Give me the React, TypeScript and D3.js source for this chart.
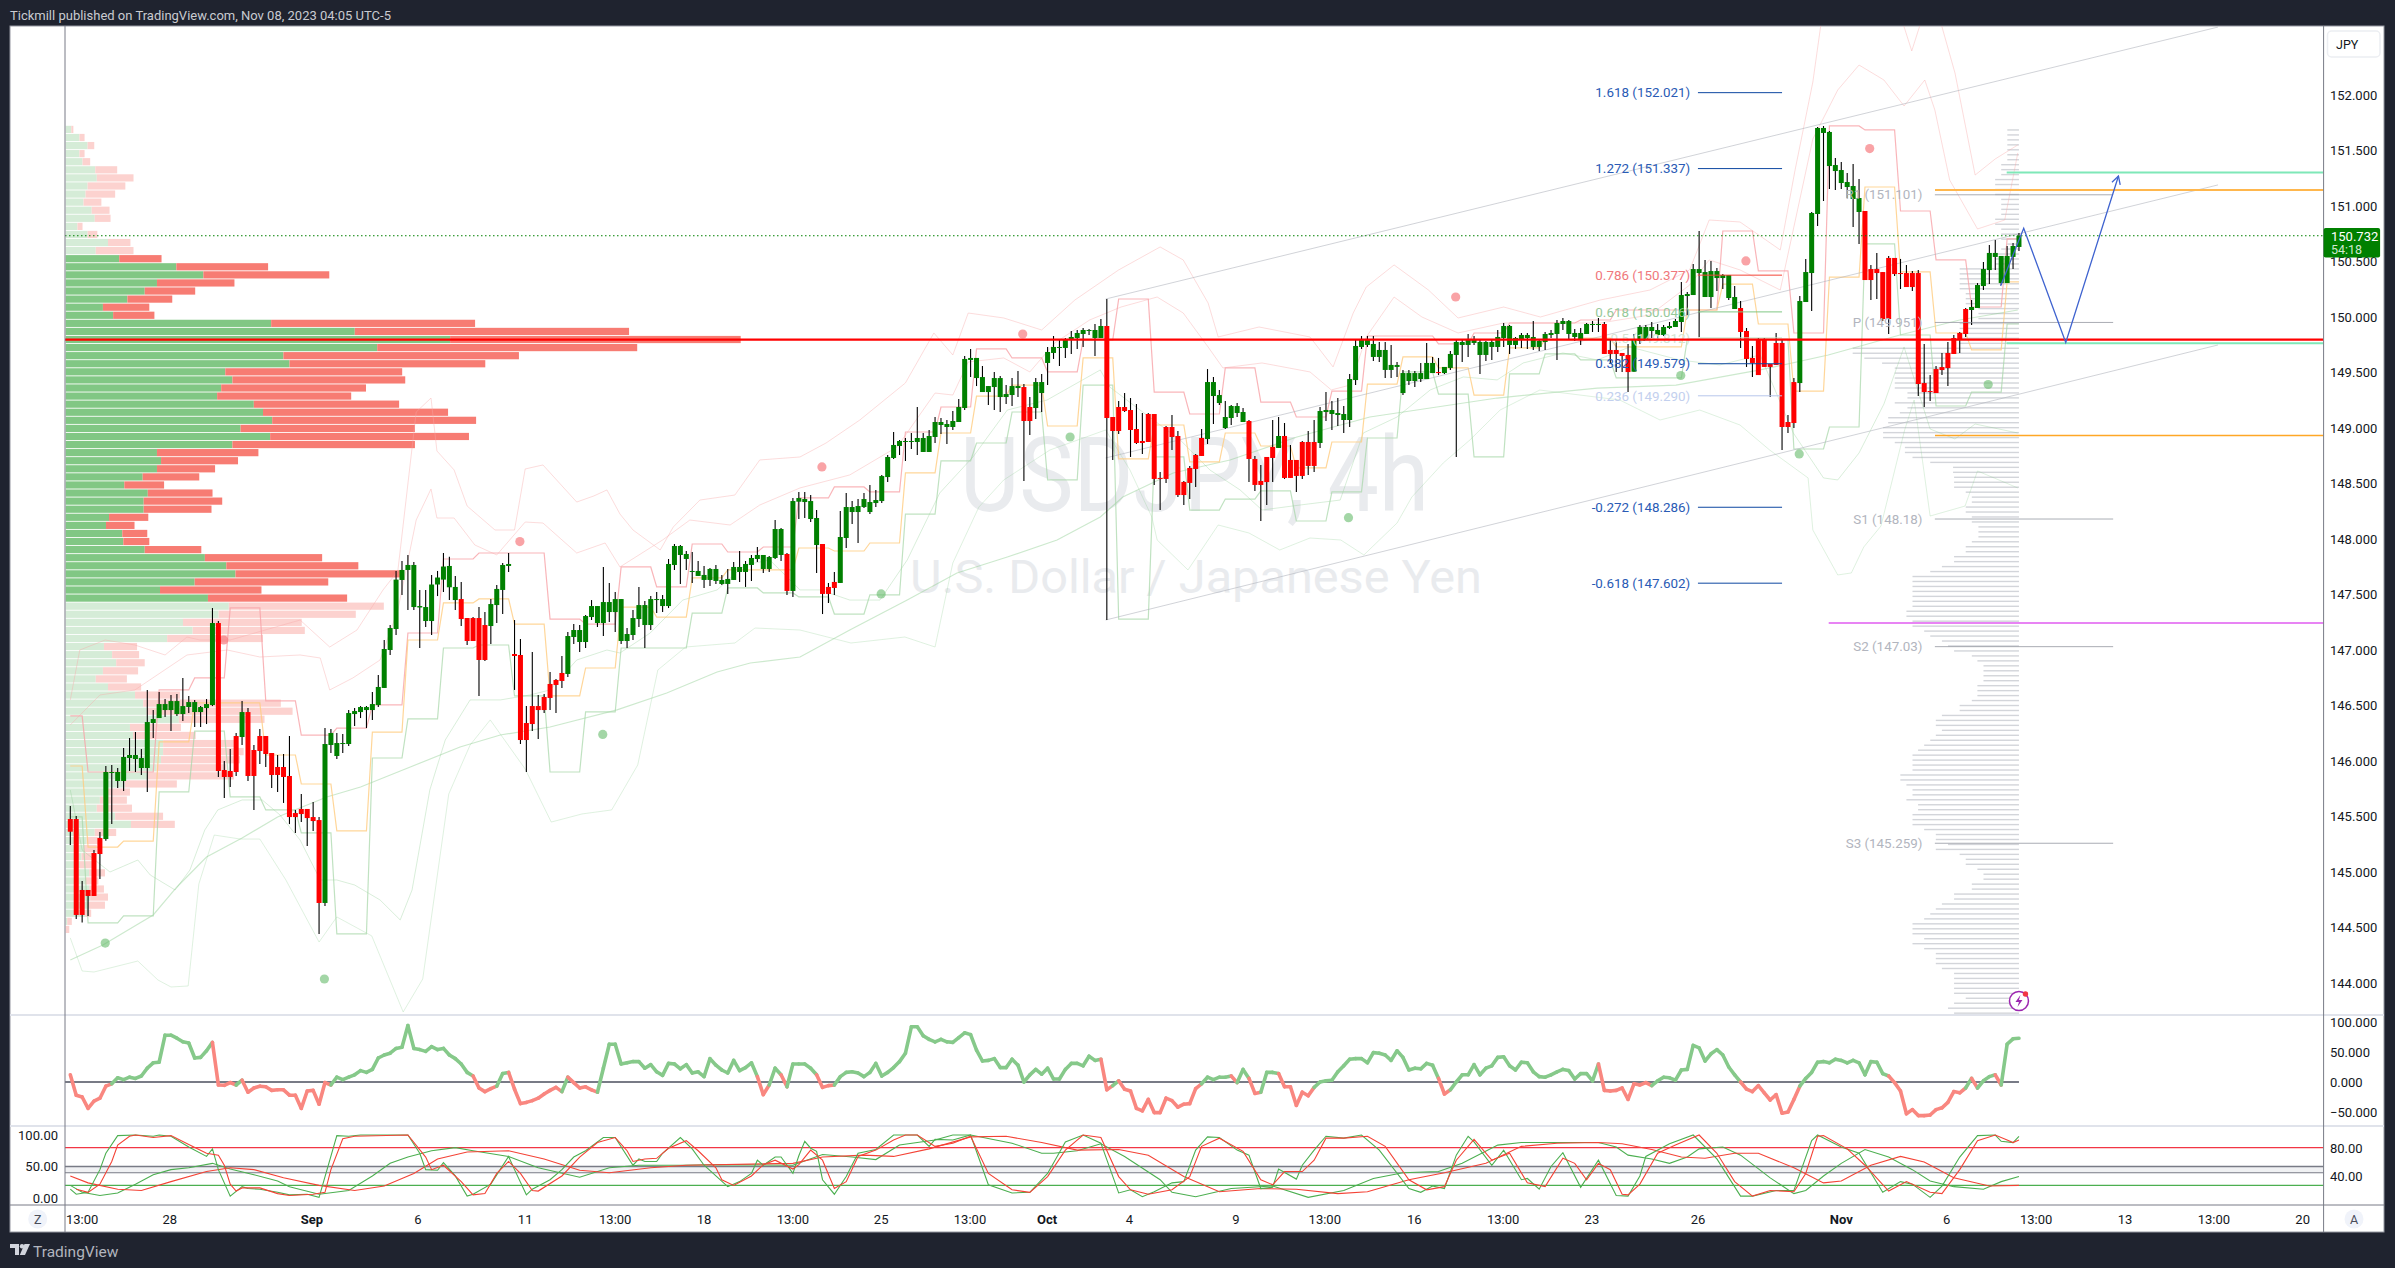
import React from "react";
import * as d3 from "d3";

type Pt = [number, number];

const ohlc: number[][] = [
[145.477,145.595,145.243,145.363],[145.477,145.504,144.577,144.613],[144.838,144.919,144.544,144.613],[144.838,144.838,144.604,144.784],[145.171,145.198,144.784,144.784],[145.306,145.360,144.937,145.162],[145.297,145.955,145.282,145.901],[145.892,145.964,145.432,145.901],[145.820,145.937,145.757,145.901],[145.820,146.117,145.730,146.036],
[146.027,146.207,145.910,146.054],[146.018,146.261,145.901,146.054],[145.937,146.108,145.874,146.027],[145.937,146.640,145.721,146.351],[146.342,146.459,146.207,146.378],[146.387,146.622,146.387,146.513],[146.459,146.558,146.396,146.513],[146.459,146.595,146.270,146.540],[146.423,146.604,146.405,146.540],[146.423,146.748,146.360,146.495],
[146.486,146.585,146.432,146.531],[146.441,146.549,146.306,146.531],[146.441,146.495,146.306,146.486],[146.477,146.558,146.333,146.513],[146.504,147.378,146.495,147.243],[147.243,147.261,145.856,145.910],[145.919,146.000,145.667,145.856],[145.910,146.108,145.766,145.856],[146.225,146.252,145.865,145.901],[146.216,146.540,146.144,146.441],
[146.441,146.477,145.820,145.865],[146.099,146.144,145.559,145.865],[146.225,146.288,145.973,146.090],[146.225,146.225,145.946,146.063],[146.072,146.072,145.757,145.874],[145.946,146.054,145.721,145.874],[145.946,146.063,145.622,145.856],[145.865,146.225,145.432,145.495],[145.531,145.559,145.351,145.495],[145.568,145.703,145.450,145.522],
[145.568,145.568,145.234,145.486],[145.495,145.631,145.369,145.459],[145.468,145.495,144.441,144.721],[144.721,146.297,144.694,146.153],[146.144,146.288,146.072,146.252],[146.045,146.252,146.018,146.162],[146.153,146.243,146.072,146.162],[146.153,146.459,146.135,146.432],[146.423,146.477,146.315,146.450],[146.441,146.495,146.387,146.486],
[146.459,146.495,146.297,146.486],[146.459,146.622,146.369,146.513],[146.504,146.775,146.486,146.667],[146.658,147.090,146.658,147.009],[147.000,147.225,146.955,147.198],[147.189,147.712,147.135,147.634],[147.631,147.802,147.496,147.721],[147.721,147.856,147.360,147.766],[147.387,147.793,147.360,147.766],[147.383,147.541,147.018,147.396],
[147.261,147.541,147.207,147.387],[147.261,147.676,147.135,147.590],[147.590,147.712,147.486,147.653],[147.634,147.874,147.523,147.752],[147.565,147.841,147.451,147.757],[147.450,147.667,147.360,147.568],[147.459,147.613,147.216,147.279],[147.288,147.288,147.045,147.081],[147.288,147.297,147.081,147.081],[147.288,147.387,146.586,146.910],
[147.225,147.342,146.901,146.910],[147.216,147.459,147.054,147.414],[147.405,147.586,147.243,147.550],[147.541,147.784,147.324,147.766],[147.757,147.874,147.703,147.775],[146.964,147.270,146.640,146.946],[146.955,147.099,146.153,146.189],[146.342,146.495,145.901,146.189],[146.495,146.982,146.270,146.333],[146.495,146.595,146.198,146.459],
[146.577,146.604,146.432,146.459],[146.694,146.802,146.459,146.568],[146.730,146.739,146.432,146.685],[146.793,146.946,146.658,146.721],[146.784,147.162,146.757,147.126],[147.117,147.234,147.054,147.180],[147.072,147.225,146.982,147.180],[147.072,147.315,147.018,147.306],[147.297,147.450,147.270,147.396],[147.243,147.396,147.207,147.396],
[147.243,147.748,147.126,147.432],[147.342,147.604,147.252,147.432],[147.342,147.522,147.162,147.459],[147.081,147.459,147.054,147.459],[147.081,147.198,147.018,147.144],[147.135,147.360,147.090,147.288],[147.279,147.568,147.207,147.405],[147.225,147.441,147.018,147.405],[147.225,147.486,147.180,147.459],[147.450,147.522,147.333,147.459],
[147.396,147.495,147.342,147.459],[147.396,147.820,147.378,147.775],[147.766,147.955,147.721,147.937],[147.856,147.946,147.595,147.937],[147.820,147.892,147.721,147.865],[147.703,147.883,147.604,147.712],[147.667,147.802,147.667,147.712],[147.631,147.757,147.559,147.676],[147.631,147.739,147.577,147.730],[147.622,147.766,147.595,147.730],
[147.595,147.676,147.586,147.631],[147.595,147.730,147.505,147.640],[147.631,147.793,147.631,147.748],[147.703,147.892,147.613,147.748],[147.703,147.802,147.568,147.775],[147.766,147.856,147.622,147.829],[147.820,147.928,147.793,147.856],[147.730,147.856,147.694,147.856],[147.730,147.847,147.703,147.838],[147.829,148.171,147.820,148.090],
[147.856,148.099,147.802,148.090],[147.865,147.874,147.495,147.532],[147.532,148.369,147.477,148.342],[148.336,148.423,148.180,148.369],[148.333,148.423,148.189,148.360],[148.180,148.396,148.153,148.342],[147.946,148.261,147.694,148.189],[147.955,147.955,147.324,147.505],[147.568,147.604,147.423,147.505],[147.613,147.703,147.495,147.559],
[147.604,148.252,147.604,148.018],[148.009,148.414,147.919,148.288],[148.243,148.342,148.135,148.288],[148.243,148.360,147.964,148.297],[148.288,148.414,148.279,148.360],[148.243,148.486,148.225,148.333],[148.324,148.441,148.288,148.351],[148.342,148.576,148.324,148.567],[148.558,148.757,148.513,148.739],[148.730,148.964,148.721,148.847],
[148.838,148.892,148.757,148.883],[148.874,148.910,148.703,148.883],[148.874,148.955,148.811,148.883],[148.874,149.189,148.757,148.910],[148.784,148.955,148.784,148.910],[148.784,148.982,148.784,148.928],[148.919,149.099,148.865,149.054],[149.027,149.090,148.946,149.054],[149.009,149.072,148.856,149.036],[149.009,149.153,148.982,149.063],
[149.054,149.261,149.054,149.189],[149.180,149.649,149.162,149.622],[149.613,149.712,149.459,149.631],[149.450,149.631,149.378,149.631],[149.324,149.559,149.324,149.459],[149.324,149.378,149.207,149.378],[149.369,149.504,149.162,149.450],[149.279,149.468,149.144,149.450],[149.279,149.387,149.216,149.306],[149.297,149.450,149.198,149.378],
[149.360,149.514,149.279,149.378],[149.369,149.396,148.522,149.063],[149.189,149.279,148.937,149.063],[149.180,149.450,149.081,149.414],[149.315,149.486,149.144,149.414],[149.586,149.730,149.387,149.685],[149.676,149.829,149.622,149.730],[149.721,149.793,149.559,149.730],[149.721,149.811,149.631,149.802],[149.793,149.874,149.667,149.820],
[149.811,149.883,149.712,149.856],[149.847,149.901,149.730,149.883],[149.874,149.892,149.838,149.883],[149.811,149.937,149.649,149.883],[149.811,149.982,149.811,149.919],[149.919,150.162,147.270,149.090],[149.099,149.099,148.712,148.973],[149.189,149.243,148.946,148.973],[149.189,149.315,149.144,149.153],[149.162,149.270,148.739,148.982],
[148.991,149.216,148.856,148.865],[148.883,149.135,148.766,148.865],[149.126,149.135,148.874,148.874],[149.126,149.126,148.486,148.541],[148.550,148.604,148.261,148.541],[149.009,149.018,148.504,148.541],[149.009,149.117,148.802,148.919],[148.928,148.973,148.378,148.396],[148.514,148.522,148.306,148.396],[148.640,148.658,148.360,148.505],
[148.757,148.766,148.469,148.631],[148.910,148.991,148.748,148.748],[148.901,149.531,148.856,149.414],[149.288,149.459,149.036,149.414],[149.225,149.342,149.207,149.297],[149.000,149.243,148.991,149.099],[149.090,149.207,149.027,149.198],[149.135,149.225,149.099,149.198],[149.054,149.180,149.054,149.144],[149.063,149.072,148.513,148.721],
[148.721,148.748,148.432,148.487],[148.523,148.667,148.162,148.487],[148.739,148.739,148.306,148.513],[148.829,149.072,148.513,148.730],[148.820,149.099,148.820,148.928],[148.928,149.045,148.541,148.550],[148.712,148.847,148.550,148.550],[148.712,148.712,148.423,148.568],[148.874,148.883,148.541,148.568],[148.874,148.973,148.577,148.658],
[148.874,149.072,148.604,148.658],[148.865,149.189,148.820,149.153],[149.144,149.324,149.063,149.162],[149.126,149.243,148.982,149.162],[149.117,149.270,149.018,149.135],[149.072,149.198,148.955,149.126],[149.072,149.486,149.009,149.441],[149.432,149.802,149.387,149.739],[149.730,149.829,149.712,149.802],[149.748,149.829,149.730,149.802],
[149.640,149.829,149.604,149.757],[149.640,149.775,149.595,149.703],[149.523,149.775,149.450,149.703],[149.523,149.748,149.450,149.568],[149.550,149.595,149.459,149.568],[149.315,149.523,149.297,149.495],[149.423,149.523,149.387,149.495],[149.423,149.514,149.369,149.495],[149.441,149.586,149.414,149.495],[149.441,149.766,149.441,149.586],
[149.495,149.640,149.495,149.586],[149.504,149.631,149.477,149.495],[149.495,149.550,149.486,149.550],[149.541,149.694,149.523,149.667],[149.658,149.793,148.739,149.775],[149.748,149.793,149.595,149.775],[149.748,149.847,149.640,149.802],[149.766,149.829,149.748,149.802],[149.658,149.793,149.486,149.775],[149.658,149.784,149.604,149.775],
[149.730,149.793,149.613,149.775],[149.730,149.883,149.685,149.820],[149.811,149.946,149.730,149.919],[149.748,149.928,149.667,149.919],[149.748,149.820,149.712,149.811],[149.802,149.856,149.721,149.838],[149.811,149.856,149.712,149.838],[149.730,149.964,149.703,149.820],[149.730,149.793,149.694,149.784],[149.775,149.865,149.703,149.847],
[149.838,149.883,149.811,149.856],[149.847,149.973,149.613,149.946],[149.937,149.991,149.883,149.964],[149.847,149.973,149.802,149.964],[149.820,149.892,149.784,149.856],[149.793,149.901,149.748,149.856],[149.847,149.946,149.847,149.937],[149.928,149.964,149.865,149.937],[149.928,149.991,149.865,149.937],[149.937,149.955,149.667,149.667],
[149.703,149.802,149.577,149.667],[149.703,149.793,149.504,149.667],[149.676,149.676,149.504,149.649],[149.658,149.757,149.324,149.504],[149.507,149.847,149.507,149.802],[149.784,149.928,149.757,149.910],[149.784,149.928,149.784,149.910],[149.874,149.955,149.811,149.910],[149.838,149.937,149.793,149.883],[149.838,149.928,149.829,149.910],
[149.901,149.955,149.892,149.919],[149.910,149.982,149.910,149.964],[149.955,150.315,149.865,150.198],[150.189,150.225,150.018,150.207],[150.198,150.477,150.198,150.432],[150.396,150.775,149.820,150.432],[150.180,150.513,150.180,150.405],[150.180,150.504,150.081,150.414],[150.351,150.441,150.234,150.414],[150.351,150.387,150.252,150.378],
[150.171,150.378,150.153,150.378],[150.072,150.279,150.072,150.180],[150.081,150.144,149.721,149.865],[149.874,149.901,149.550,149.622],[149.631,149.739,149.459,149.586],[149.802,149.811,149.477,149.477],[149.802,149.811,149.550,149.550],[149.577,149.577,149.279,149.550],[149.766,149.856,149.568,149.568],[149.766,149.802,148.802,149.009],
[149.054,149.117,148.955,149.009],[149.414,149.450,149.000,149.045],[149.405,150.189,149.324,150.144],[150.135,150.522,150.135,150.405],[150.396,150.946,150.054,150.937],[150.928,151.712,150.820,151.703],[151.658,151.721,151.045,151.703],[151.360,151.676,151.153,151.667],[151.315,151.432,151.144,151.369],[151.207,151.396,151.153,151.324],
[151.171,151.297,151.072,151.216],[151.063,151.378,150.811,151.180],[150.946,151.243,150.658,151.072],[150.955,150.955,150.333,150.333],[150.432,150.468,150.153,150.333],[150.432,150.577,150.162,150.396],[150.405,150.405,149.964,149.982],[150.532,150.550,149.847,149.982],[150.532,150.532,150.369,150.387],[150.396,150.523,150.252,150.387],
[150.396,150.468,150.270,150.270],[150.396,150.414,150.234,150.270],[150.396,150.423,149.288,149.396],[149.405,149.757,149.189,149.324],[149.333,149.477,149.243,149.324],[149.531,149.558,149.315,149.315],[149.549,149.676,149.477,149.522],[149.676,149.775,149.378,149.540],[149.811,149.838,149.667,149.667],[149.856,149.865,149.675,149.793],
[150.072,150.081,149.820,149.847],[150.063,150.153,149.928,150.090],[150.081,150.306,150.081,150.288],[150.279,150.495,150.243,150.432],[150.423,150.649,150.297,150.577],[150.541,150.694,150.423,150.577],[150.306,150.550,150.288,150.550],[150.306,150.640,150.306,150.550],[150.541,150.667,150.432,150.640],[150.631,150.757,150.595,150.732],
];

const cci = [12,-22,-25,-44,-32,-27,-7,-3,7,4,8,6,10,23,32,33,78,78,73,67,65,40,41,52,66,-5,-5.5,-1,-5,3,-17,-10,-7,-8,-14,-13,-13,-22,-22,-44,-15,-14,-37,-1,-5,8,4,8,12,19,16,21,40,45,48,56,58,94,56,54,51,59,54,56,45,39,30,16,10,-10,-16,-11,-7,14,16,-12,-36,-34,-31,-27,-20,-14,-9,-16,8,-1,-10,-8,-13,-17,23,63,63,30,32,34,34,23,29,17,11,31,30,22,29,15,17,9,39,28,20,15,36,19,24,32,9,-21,-5,23,12,-8,30,30,
30,23,12,-9,-6,-5,9,16,17,15,9,16,31,10,16,24,34,48,92,92,77,71,67,71,67,66,74,82,79,53,35,36,39,24,24,38,28,0,12,21,13,23,5,5,21,31,31,27,43,36,38,-13,-6,2,-12,-15,-44,-48,-29,-51,-51,-27,-31,-42,-37,-36,-11,-3,8,4,8,8,10,-1,21,6,-19,-17,16,16,14,-8,-8,-39,-17,-23,-9,0,2,3,17,27,38,39,39,32,49,48,45,36,52,41,20,23,22,31,28,6,-20,-13,0,12,12,29,12,23,27,41,42,27,20,33,32,17,9,8,12,17,21,19,5,14,14,2,30,
-14,-15,-14,-10,-29,-3,-5,-1,-6,2,8,7,3,20,21,61,57,35,47,54,45,25,12,0,-12,-16,-6,-18,-30,-21,-52,-50,-29,-7,6,16,33,34,32,38,36,32,36,32,12,34,33,14,10,-1,-15,-53,-46,-56,-56,-55,-46,-43,-34,-16,-18,-10,6,-10,2,9,12,-5,63,72,73];

const stochFastGreen: Pt[] = [[0,14],[1,6],[3,9],[5,45],[6,71],[8,99],[11,100],[14,98],[15,100],[17,98],[20,81],[23,66],[24,78],[25,45],[27,3],[29,18],[30,15],[32,14],[35,9],[37,5],[40,6],[42,1],[45,99],[47,98],[49,100],[57,100],[59,71],[60,45],[62,44],[63,56],[65,35],[67,3],[68,6],[71,22],[74,66],[75,45],[77,5],[78,14],[81,29],[83,45],[85,65],[87,75],[90,96],[92,96],[95,52],[96,62],[97,58],[99,58],[100,71],[103,96],[105,78],[107,52],[109,35],[111,18],[113,26],[115,39],[116,60],[117,52],[119,65],[120,65],[122,39],[123,67],[124,90],[125,79],[126,74],[127,29],[129,6],[131,34],[133,71],[136,77],[139,100],[143,100],[145,82],[146,93],[149,92],[152,100],[155,21],[159,8],[162,9],[165,39],[168,89],[171,100],[174,87],[177,8],[179,13],[181,2],[183,10],[186,24],[188,26],[190,76],[192,97],[194,96],[197,76],[199,68],[201,15],[203,17],[204,46],[207,30],[208,52],[210,76],[212,98],[215,95],[218,100],[221,76],[226,15],[228,9],[230,19],[232,15],[234,68],[236,98],[237,89],[240,52],[242,76],[245,29],[246,31],[248,14],[250,50],[252,72],[255,17],[258,60],[261,4],[263,3],[265,35],[266,66],[270,86],[274,100],[278,62],[282,3],[284,3],[288,12],[291,12],[294,91],[295,100],[299,81],[302,71],[306,9],[309,26],[311,22],[314,1],[316,19],[319,65],[322,99],[325,100],[326,90],[328,88],[329,98]];
const stochFastRed: Pt[] = [[1,14],[3,9],[5,22],[7,58],[8,84],[10,98],[11,100],[14,96],[17,99],[20,85],[23,71],[25,68],[26,52],[27,22],[28,11],[29,16],[32,16],[35,7],[37,4],[41,6],[43,9],[44,45],[46,94],[48,98],[57,100],[60,65],[61,45],[63,52],[66,26],[68,5],[70,7],[72,39],[74,58],[76,39],[78,12],[79,11],[83,35],[86,65],[89,88],[92,96],[94,75],[95,58],[97,62],[99,63],[101,79],[104,91],[106,75],[109,48],[110,29],[112,20],[115,35],[117,53],[119,60],[122,46],[123,53],[125,76],[127,60],[129,15],[131,26],[133,66],[136,76],[139,92],[141,100],[143,100],[146,82],[149,87],[152,98],[155,39],[159,13],[162,9],[165,34],[168,76],[171,100],[174,96],[177,34],[179,13],[182,6],[186,13],[189,34],[191,82],[194,95],[198,74],[201,29],[203,21],[205,42],[208,42],[210,60],[212,95],[215,95],[219,98],[222,82],[226,29],[229,13],[232,18],[234,60],[237,93],[240,60],[243,71],[246,24],[249,18],[252,63],[254,55],[256,29],[258,55],[260,45],[262,6],[263,5],[265,22],[268,71],[271,84],[275,100],[278,71],[281,26],[284,3],[287,12],[291,10],[293,39],[295,98],[296,99],[300,78],[303,52],[307,11],[310,26],[314,9],[316,7],[319,45],[322,91],[325,100],[327,92],[328,88],[329,92]];
const stochSlowGreen: Pt[] = [[0,20],[2,9],[5,4],[8,8],[11,22],[14,37],[17,45],[20,48],[24,55],[27,46],[31,37],[35,27],[37,18],[42,6],[47,12],[51,35],[54,55],[57,65],[61,75],[65,80],[68,75],[74,66],[79,48],[86,33],[91,48],[96,52],[103,52],[111,53],[122,52],[127,69],[132,65],[136,61],[140,84],[146,92],[149,100],[152,100],[159,87],[164,71],[166,71],[170,75],[174,86],[178,66],[184,29],[186,9],[190,2],[196,15],[203,19],[209,1],[215,12],[220,31],[225,40],[231,42],[235,55],[241,84],[245,88],[252,88],[258,88],[261,81],[263,68],[267,62],[270,55],[273,65],[275,78],[279,81],[282,68],[287,32],[291,7],[293,12],[296,35],[299,55],[303,77],[307,65],[311,45],[314,27],[318,18],[323,14],[326,26],[329,34]];
const stochSlowRed: Pt[] = [[0,35],[3,24],[8,14],[12,12],[17,26],[23,42],[27,48],[31,45],[36,32],[42,20],[48,12],[53,19],[58,39],[62,62],[67,73],[74,75],[80,62],[86,44],[91,40],[98,48],[104,52],[122,55],[127,65],[134,68],[139,66],[145,78],[152,97],[158,98],[164,88],[170,76],[177,77],[182,68],[188,34],[194,10],[201,15],[207,14],[214,7],[219,10],[226,29],[232,40],[239,55],[245,82],[251,87],[258,88],[262,86],[267,77],[272,65],[276,63],[281,71],[285,71],[291,48],[296,24],[299,27],[304,52],[309,66],[313,57],[318,32],[324,19],[329,20]];

const stepStartBar = 3;
const stepLength = 6;
const orangeLevels = [145.955,145.225,145.279,146.172,146.523,146.523,146.054,145.793,145.370,146.261,147.090,147.424,147.460,147.234,146.586,146.838,147.387,147.297,147.649,147.721,147.721,147.919,147.892,147.964,148.595,148.955,149.288,149.387,149.018,149.631,148.721,149.027,148.694,148.955,148.838,148.640,148.874,149.396,149.640,149.541,149.297,149.721,149.793,149.81,149.73,149.73,150.063,150.297,149.937,149.333,150.360,151.171,150.406,149.856,149.703,150.316];
const greenLevels = [145.496,144.541,144.604,145.721,146.270,145.676,145.559,145.352,144.442,146.027,146.379,147.018,147.045,146.586,145.901,146.442,147.018,147.018,147.333,147.559,147.514,147.478,147.324,147.496,148.225,148.703,148.865,149.144,148.532,149.387,147.279,148.739,148.261,148.360,148.433,148.162,148.424,148.910,149.505,149.306,148.739,149.487,149.667,149.613,149.451,149.451,149.802,149.802,149.802,148.811,149.009,150.658,149.838,149.198,149.324,149.937];
const pinkLevels = [146.406,145.901,145.901,146.640,146.748,147.379,146.541,146.234,146.297,146.505,147.153,147.820,147.874,147.874,147.279,147.234,147.748,147.568,147.955,147.883,147.928,148.370,148.469,148.424,148.964,149.189,149.712,149.631,149.505,149.793,150.162,149.324,149.126,149.541,149.234,149.099,149.333,149.829,149.829,149.757,149.856,149.946,149.946,149.973,150.063,150.063,150.063,150.775,150.415,149.856,151.721,151.685,150.955,150.514,150.090,150.703];

const maLine: Pt[] = [[0,144.207],[5.5,144.343],[14,144.613],[18,144.865],[23,145.135],[29,145.306],[35,145.496],[43.3,145.676],[49,145.766],[57.4,145.946],[65.8,146.126],[72.6,146.234],[81,146.306],[92.3,146.460],[100.7,146.613],[109.2,146.802],[114.8,146.883],[123.2,146.937],[131.6,147.180],[141.3,147.451],[149.7,147.694],[158.2,147.838],[166.6,147.991],[173.9,148.198],[177.7,148.378],[186.2,148.595],[195.8,148.712],[207.1,148.919],[219.4,149.099],[229.6,149.180],[240.9,149.270],[257.8,149.360],[271.1,149.387],[285.3,149.523],[296.8,149.658],[308.9,149.838],[319,149.973],[328.8,150.063]];
const upperOuter: Pt[] = [[0,146.550],[1.6,147.000],[5.9,147.090],[10.9,147.045],[16,146.955],[19.7,147.117],[21.9,147.090],[27,147.090],[38.8,147.270],[43.8,147.027],[48.4,147.180],[52.8,147.541],[55.3,147.712],[58.4,149.144],[60.9,149.270],[61.9,148.793],[64.8,148.622],[67,148.297],[71.7,148.081],[75,148.081],[76.8,148.631],[79.8,148.667],[85.5,148.333],[88.4,148.388],[90.6,148.442],[92.8,148.225],[95,148.081],[99.6,147.901],[101.8,148.108],[106.3,148.351],[112.2,148.396],[116.4,148.712],[123.2,148.739],[127.6,148.865],[133.3,149.072],[141,149.406],[145.8,149.856],[149,149.658],[151.6,150.036],[157.6,149.991],[164,149.883],[169.6,150.153],[177,150.424],[184,150.631],[187.9,150.514],[192.1,150.126],[193.8,149.820],[200.7,149.910],[209.3,149.820],[213.2,149.550],[216.6,150.036],[218.8,150.270],[223.5,150.469],[229.3,150.243],[234.3,149.991],[242,150.090],[248.2,150.000],[258.3,150.153],[266.7,150.243],[273.4,150.424],[276.7,150.874],[281.9,150.856],[288.7,150.604],[291.2,151.324],[294.2,152.117],[295.9,152.766],[308.7,152.766],[310.9,152.397],[313.1,152.766],[315.2,152.766],[318.2,152.198],[321.6,151.279],[325,151.424],[328.8,151.550]];
const upperInner: Pt[] = [[0,146.325],[5,146.595],[10.9,146.640],[19.7,146.955],[26.5,147.000],[32,146.937],[38.8,146.955],[42.2,146.928],[43.8,146.640],[47.7,146.748],[52.3,146.910],[55.3,147.360],[58.4,148.171],[60.9,148.451],[61.9,148.189],[64.8,148.189],[68.3,147.946],[72,147.856],[76.8,148.153],[79.8,148.144],[85.5,147.874],[90.3,147.964],[92.8,147.748],[100,147.991],[104.6,148.171],[111.4,148.126],[116.4,148.306],[123.2,148.460],[131.6,148.577],[139.6,148.829],[146,149.315],[149,149.297],[151.6,149.595],[157.6,149.631],[162,149.505],[166.2,149.766],[172.1,149.973],[177.4,150.090],[183.5,150.180],[187.9,150.036],[192.1,149.730],[194.6,149.541],[201.2,149.586],[209.3,149.505],[212.9,149.343],[216.1,149.387],[218.8,149.820],[223.5,150.180],[228.2,150.000],[234.3,149.856],[242,149.946],[258.3,149.946],[266.7,150.018],[273.4,150.288],[276.7,150.514],[281.9,150.424],[288.7,150.243],[294.2,151.604],[298.4,152.045],[302,152.270],[306.2,152.135],[309.6,151.901],[313.1,152.135],[314.8,151.865],[317.3,151.234],[322,150.793],[326.6,150.874],[328.8,151.478]];
const lowerInner: Pt[] = [[0,145.739],[2,145.198],[6.7,145.000],[11.4,145.108],[13.5,144.973],[17.7,144.838],[20.2,145.018],[22.7,145.378],[24.9,145.559],[29,145.649],[32.4,145.649],[35.4,145.514],[38.8,145.288],[42.2,144.928],[45,144.928],[48,144.883],[52.3,144.748],[55.7,144.568],[57.7,144.838],[60.7,145.739],[63.3,146.189],[67.5,146.550],[72.6,146.550],[77.6,146.595],[81,146.640],[85.5,146.910],[90.6,147.000],[92.8,146.973],[97.9,147.153],[103.4,147.450],[109.2,147.541],[113.9,147.766],[118.1,147.811],[123.2,147.541],[126.6,147.541],[131.6,147.450],[136.7,147.450],[141.3,147.811],[146.8,148.415],[152.4,148.739],[158.2,149.162],[164.9,149.252],[173.9,149.523],[175.5,149.369],[180.6,149.162],[187.4,148.892],[192.4,148.622],[197.5,148.442],[201.2,148.261],[207.6,148.306],[214.4,148.351],[218.3,148.955],[224,149.099],[229.6,149.343],[235.2,149.460],[240.9,149.433],[245.3,149.586],[252,149.676],[257.8,149.613],[263.3,149.730],[271.7,149.613],[278.5,149.568],[285.3,149.658],[290.9,148.955],[296,148.550],[298.4,148.532],[302,148.775],[306.2,149.216],[309.6,149.730],[314,148.991],[318.2,148.901],[321.6,149.036],[328.8,148.955]];
const lowerOuter: Pt[] = [[0,144.406],[2,144.108],[4,144.099],[11.4,144.198],[14.8,144.027],[17,143.964],[19.9,143.973],[21.7,144.892],[24.3,145.333],[28.7,145.297],[32,145.297],[36.4,144.928],[42,144.369],[45,144.595],[50.9,144.424],[56.2,143.739],[59.5,144.036],[63.9,145.703],[67.5,146.144],[70.9,146.370],[76.8,145.928],[81.2,145.450],[86.4,145.523],[91.4,145.559],[95.8,145.964],[99.2,146.820],[103.9,147.027],[112.2,147.063],[115.6,147.198],[123.2,147.180],[131.8,147.063],[140.9,147.117],[146,147.027],[149,147.784],[153.4,148.288],[157.6,148.532],[165.4,148.802],[174.8,148.982],[178.9,148.622],[182.6,148.198],[183.5,147.991],[188.7,147.721],[193.8,148.126],[199,148.054],[204.2,147.901],[209.3,148.009],[214.5,147.991],[218.4,147.856],[224,148.144],[226.5,148.378],[231.8,148.685],[236.3,148.892],[241.4,149.162],[248.1,149.342],[254.9,149.297],[261.6,149.252],[268.4,149.072],[275.1,149.162],[281.9,149.027],[286.9,148.802],[293.4,148.550],[294.2,148.081],[298.4,147.676],[300.7,147.694],[302.8,147.928],[305.7,148.117],[309.7,148.982],[311.3,149.252],[314,148.207],[319.9,148.297],[322,148.613],[328.8,148.460]];

const pinkDots: Pt[] = [[126.9,148.649],[160.8,149.847],[233.9,150.180],[75.9,147.977],[282.9,150.505],[303.8,151.517],[25.9,147.090]];
const greenDots: Pt[] = [[5.9,144.360],[42.9,144.036],[89.9,146.239],[168.8,148.919],[136.9,147.505],[215.8,148.192],[271.9,149.473],[291.9,148.766],[323.8,149.392]];

// session volume profile (left), relative volume per price row
const vpTopPrice = 151.69;
const vpRowStep = 0.0728;
const vpBuy = [11,27,43,27,33,58,61,43,39,35,51,57,23,43,83,59,105,217,270,179,155,121,73,93,403,567,754,611,427,439,313,327,305,297,369,387,405,343,401,327,179,187,179,151,115,161,153,153,85,79,111,113,155,273,315,333,253,185,279,320,300,230,249,199,75,91,99,73,59,83,136,152,159,222,126,132,191,191,187,178,161,116,83,67,61,97,128,57,41,35,31,28,46,38,46,48,44,38,3,0];
const vpTotal = [15,37,56,37,48,101,133,117,97,70,86,88,33,62,127,133,188,397,517,331,254,209,164,174,803,1105,1324,1121,889,823,660,666,589,560,654,750,805,685,791,685,378,338,293,262,193,288,307,286,162,135,160,164,266,503,574,662,515,384,552,624,569,463,469,387,140,144,155,142,120,148,224,422,445,390,226,255,330,349,342,315,330,218,126,120,130,191,214,99,67,61,54,54,77,64,75,83,77,50,12,7];
const vpStrongFrom = 16;
const vpStrongTo = 58;

// visible range profile (right), relative volume per price row
const vrTopPrice = 151.685;
const vrRowStep = 0.0447;
const vrVolume = [23,23,23,23,23,23,23,35,35,35,47,47,47,47,35,35,35,35,47,47,35,35,35,23,35,47,47,47,117,117,117,117,117,105,105,105,80,80,80,117,117,117,117,117,328,328,305,270,245,245,245,245,245,220,220,245,220,235,258,258,268,268,268,245,225,225,210,175,130,130,128,128,128,105,93,93,105,105,93,93,80,80,80,93,105,105,128,128,152,175,210,210,210,210,210,210,210,222,222,210,210,187,175,152,140,128,93,82,70,70,70,70,82,82,82,93,117,117,152,164,164,152,164,175,187,199,210,210,210,210,234,234,222,210,210,222,199,199,210,210,210,187,164,164,140,164,117,105,105,82,70,70,93,93,128,128,152,164,175,187,210,210,210,187,210,187,164,164,164,152,128,128,128,128,128,105,128,140,128,128];

const priceTicks = ["152.000","151.500","151.000","150.500","150.000","149.500","149.000","148.500","148.000","147.500","147.000","146.500","146.000","145.500","145.000","144.500","144.000"];
const cciTicks = [100,50,0,-50];
const stochLeftTicks = [100,50,0];
const stochRightTicks = [80,40];
const stochLevels: [number,string,number][] = [[80,"#f23645",1.3],[50,"#787b86",1.6],[40,"#787b86",1.1],[20,"#4caf50",1.4]];
const timeTicks: [number,string,boolean][] = [[2,"13:00",false],[16.8,"28",false],[40.8,"Sep",true],[58.7,"6",false],[76.8,"11",false],[92,"13:00",false],[107,"18",false],[122,"13:00",false],[136.9,"25",false],[151.9,"13:00",false],[164.9,"Oct",true],[178.8,"4",false],[196.8,"9",false],[211.8,"13:00",false],[226.9,"16",false],[241.9,"13:00",false],[256.9,"23",false],[274.8,"26",false],[299,"Nov",true],[316.8,"6",false],[331.9,"13:00",false],[346.9,"13",false],[361.9,"13:00",false],[376.9,"20",false]];

const fibLevels: [string,number,string,string,number][] = [
  ["1.618",152.021,"#2a5bb5","#0d47a1",1],["1.272",151.337,"#2a5bb5","#0d47a1",1],["0.786",150.377,"#f0787c","#f44336",1],["0.618",150.046,"#97c99a","#81c784",1],["0.5",149.812,"#d4e4d2","#c8e6c9",1],["0.382",149.579,"#2a5bb5","#0d47a1",1],["0.236",149.29,"#c3d0ee","#b7c7ec",1],["-0.272",148.286,"#2a5bb5","#0d47a1",1],["-0.618",147.602,"#2a5bb5","#0d47a1",1],
];
const fibBars = [274.8, 289];
const fibLabelBar = 273.5;
const pivots: [string,number][] = [["R1",151.101],["P",149.951],["S1",148.18],["S2",147.03],["S3",145.259]];
const pivotBars = [314.8, 344.9];
const pivotLabelBar = 312.7;

const channelStart = 174.8;
const channelEnd = 362.6;
const channelPrices: [number,number][] = [[150.162,152.612],[148.73,151.19],[147.27,149.748]];
const projection: Pt[] = [[325.9,150.28],[329.8,150.80],[336.9,149.77],[345.8,151.27]];
const pocPrice = 149.797;
const lastPrice = 150.732;
const horizontals: [number,number,number,string,number][] = [
  [151.301,2006.7,2323.6,"#7fe8b8",2],[149.763,2006.7,2323.6,"#7fe8b8",2],[151.144,1935,2323.6,"#ffb74d",2],[148.933,1935,2323.6,"#ffa726",1.4],[147.243,1828.7,2323.6,"#e884f4",2],
];

const W = 2395, H = 1268;
const L = 65, R = 2323.6, PANEL_L = 10, PANEL_R = 2384, TOP = 26, MAIN_B = 1015, CCI_B = 1126, ST_B = 1205, AX_B = 1232;
const FONT = "Roboto, sans-serif";

const x = d3.scaleLinear().domain([0, 329]).range([70.3, 70.3 + 329 * 5.923]);
const y = d3.scaleLinear().domain([152, 144]).range([95, 983]);
const yCci = d3.scaleLinear().domain([0, 100]).range([1082, 1022]);
const yStoch = d3.scaleLinear().domain([0, 100]).range([1198, 1135]);
const yStochR = d3.scaleLinear().domain([40, 80]).range([1176, 1148]);
const vpW = d3.scaleLinear().domain([0, 1324]).range([0, 675]);
const vrW = d3.scaleLinear().domain([0, 328]).range([0, 166.3]);

const priceLine = d3.line<Pt>().x(d => x(d[0])).y(d => y(d[1]));
const stochLine = d3.line<Pt>().x(d => x(d[0])).y(d => yStoch(d[1]));

function stepPath(levels: number[]): string {
  const pts: Pt[] = [];
  levels.forEach((v, k) => {
    const a = k === 0 ? 0 : stepStartBar + (k - 1) * stepLength;
    const b = k === 0 ? stepStartBar - 1 : Math.min(329, a + stepLength - 1);
    pts.push([a, v], [b, v]);
  });
  return priceLine(pts) as string;
}

function TVLogo() {
  return (
    <g fill="#d1d4dc" transform="translate(10,1244)">
      <path d="M0 0 H9 V11 H5 V4 H0 Z" />
      <circle cx="12" cy="2.2" r="2.2" />
      <path d="M14.5 0 H20 L15 11 H9.8 Z" />
    </g>
  );
}

export default function App() {
  document.body.style.margin = "0";
  const arrowA = projection[2], arrowB = projection[3];
  const ax = x(arrowB[0]), ay = y(arrowB[1]);
  const ang = Math.atan2(ay - y(arrowA[1]), ax - x(arrowA[0]));
  const head = (d: number) => `${ax + 9 * Math.cos(ang + d)},${ay + 9 * Math.sin(ang + d)}`;
  return (
    <svg width={W} height={H} style={{ display: "block", position: "absolute", left: 0, top: 0, fontFamily: FONT }}>
      <defs>
        <clipPath id="mainClip"><rect x={L} y={TOP} width={R - L} height={MAIN_B - TOP} /></clipPath>
        <clipPath id="cciClip"><rect x={L} y={MAIN_B} width={R - L} height={CCI_B - MAIN_B} /></clipPath>
        <clipPath id="stClip"><rect x={L} y={CCI_B} width={R - L} height={ST_B - CCI_B} /></clipPath>
      </defs>
      <rect width={W} height={H} fill="#1f232f" />
      <rect x={PANEL_L} y={TOP} width={PANEL_R - PANEL_L} height={AX_B - TOP} fill="#ffffff" stroke="#9598a1" strokeWidth={1} />
      <text x={10} y={19.5} fontSize={13} fill="#c9cbd1">Tickmill published on TradingView.com, Nov 08, 2023 04:05 UTC-5</text>
      <TVLogo />
      <text x={33} y={1256.5} fontSize={15.5} fill="#b2b5be">TradingView</text>

      <g clipPath="url(#mainClip)">
        <text x={960} y={511} fontSize={103} fill="#e9ebee" textLength={469} lengthAdjust="spacingAndGlyphs">USDJPY, 4h</text>
        <text x={910} y={593} fontSize={46} fill="#e9ebee" textLength={572} lengthAdjust="spacingAndGlyphs">U.S. Dollar / Japanese Yen</text>

        {vrVolume.map((v, k) => {
          const yy = y(vrTopPrice - k * vrRowStep);
          return <rect key={k} x={x(329) - vrW(v)} y={yy - 0.7} width={vrW(v)} height={1.4} fill="#d3d5da" />;
        })}

        {vpBuy.map((b, k) => {
          const t = vpTotal[k];
          const cy = y(vpTopPrice - k * vpRowStep);
          const strong = k >= vpStrongFrom && k <= vpStrongTo;
          return (
            <g key={k}>
              <rect x={L + 0.7} y={cy - 3.6} width={vpW(b)} height={7.2} fill={strong ? "#81c784" : "#d5ecd7"} />
              <rect x={L + 0.7 + vpW(b)} y={cy - 3.6} width={vpW(t - b)} height={7.2} fill={strong ? "#f77c73" : "#fcd2cf"} />
            </g>
          );
        })}

        <g fill="none" strokeWidth={1}>
          <path d={priceLine(upperOuter) as string} stroke="#f8a8a8" strokeOpacity={0.4} />
          <path d={priceLine(upperInner) as string} stroke="#f8a8a8" strokeOpacity={0.4} />
          <path d={priceLine(lowerInner) as string} stroke="#81c784" strokeOpacity={0.3} />
          <path d={priceLine(lowerOuter) as string} stroke="#81c784" strokeOpacity={0.25} />
          <path d={priceLine(maLine) as string} stroke="#81c784" strokeOpacity={0.4} strokeWidth={1.2} />
          <path d={stepPath(pinkLevels)} stroke="#f7a3a8" strokeOpacity={0.8} strokeWidth={1.2} />
          <path d={stepPath(orangeLevels)} stroke="#ffcc80" strokeOpacity={0.8} strokeWidth={1.2} />
          <path d={stepPath(greenLevels)} stroke="#a5d6a7" strokeOpacity={0.7} strokeWidth={1.2} />
        </g>

        {channelPrices.map((c, k) => (
          <line key={k} x1={x(channelStart)} x2={x(channelEnd)} y1={y(c[0])} y2={y(c[1])} stroke="#b2b5be" strokeOpacity={0.6} strokeWidth={1} />
        ))}

        {pinkDots.map((d, k) => <circle key={k} cx={x(d[0])} cy={y(d[1])} r={4.6} fill="#f77c80" fillOpacity={0.7} />)}
        {greenDots.map((d, k) => <circle key={k} cx={x(d[0])} cy={y(d[1])} r={4.6} fill="#66bb6a" fillOpacity={0.6} />)}

        {ohlc.map((c, k) => {
          const [o, h, l, cl] = c;
          const up = cl >= o;
          const col = up ? "#008000" : "#ff0000";
          const top = y(Math.max(o, cl));
          const bot = y(Math.min(o, cl));
          return (
            <g key={k}>
              <line x1={x(k)} x2={x(k)} y1={y(h)} y2={y(l)} stroke="#000" strokeWidth={1.1} />
              <rect x={x(k) - 2.5} y={top} width={5} height={Math.max(1, bot - top)} fill={col} />
            </g>
          );
        })}

        {pivots.map(([n, p]) => (
          <g key={n}>
            <line x1={x(pivotBars[0])} x2={x(pivotBars[1])} y1={y(p)} y2={y(p)} stroke="#9598a1" strokeOpacity={0.8} strokeWidth={1} />
            <text x={x(pivotLabelBar)} y={y(p) + 4.7} fontSize={13.4} fill="#b2b5be" textAnchor="end">{`${n} (${p})`}</text>
          </g>
        ))}
        {fibLevels.map(([n, p, tc, lc, w]) => (
          <g key={n}>
            <line x1={x(fibBars[0])} x2={x(fibBars[1])} y1={y(p)} y2={y(p)} stroke={lc} strokeWidth={w} />
            <text x={x(fibLabelBar)} y={y(p) + 4.7} fontSize={13.4} fill={tc} textAnchor="end">{`${n} (${p.toFixed(3)})`}</text>
          </g>
        ))}

        {horizontals.map(([p, a, b, c, w], k) => (
          <line key={k} x1={a} x2={b} y1={y(p)} y2={y(p)} stroke={c} strokeWidth={w} />
        ))}

        <line x1={L} x2={R} y1={y(pocPrice)} y2={y(pocPrice)} stroke="#ff0000" strokeWidth={2.2} />
        <line x1={L} x2={R} y1={y(lastPrice)} y2={y(lastPrice)} stroke="#008000" strokeWidth={1} strokeDasharray="1.5 2.5" />

        <path d={priceLine(projection) as string} fill="none" stroke="#3f63cf" strokeWidth={1.3} />
        <polyline points={`${head(Math.PI - 0.5)} ${ax},${ay} ${head(Math.PI + 0.5)}`} fill="none" stroke="#3f63cf" strokeWidth={1.3} />

        <g transform={`translate(${x(329)},1001)`}>
          <circle r={9.5} fill="#fff" stroke="#9c27b0" strokeWidth={1.5} />
          <path d="M1.5 -6 L-3.5 1 H0 L-1.5 6 L3.5 -1 H0 Z" fill="#9c27b0" />
          <circle cx={6.5} cy={-7} r={2.7} fill="#f23645" />
        </g>
      </g>

      <g clipPath="url(#cciClip)">
        <line x1={L} x2={x(329)} y1={yCci(0)} y2={yCci(0)} stroke="#787b86" strokeWidth={2} />
        {cci.slice(1).map((v, k) => (
          <line key={k} x1={x(k)} x2={x(k + 1)} y1={yCci(cci[k])} y2={yCci(v)} stroke={v >= 0 ? "#86c98a" : "#f98780"} strokeWidth={3.6} strokeLinecap="round" />
        ))}
      </g>

      <g clipPath="url(#stClip)">
        <rect x={L} width={R - L} y={yStoch(50)} height={yStoch(40) - yStoch(50)} fill="#f0f1f3" />
        {stochLevels.map(([v, c, w]) => <line key={v} x1={L} x2={R} y1={yStoch(v)} y2={yStoch(v)} stroke={c} strokeWidth={w} />)}
        <g fill="none" strokeWidth={1.1}>
          <path d={stochLine(stochSlowGreen) as string} stroke="#4caf50" />
          <path d={stochLine(stochSlowRed) as string} stroke="#f44336" />
          <path d={stochLine(stochFastGreen) as string} stroke="#4caf50" />
          <path d={stochLine(stochFastRed) as string} stroke="#f44336" />
        </g>
      </g>

      <g stroke="#e0e3eb" strokeWidth={2}>
        <line x1={PANEL_L} x2={PANEL_R} y1={MAIN_B} y2={MAIN_B} />
        <line x1={PANEL_L} x2={PANEL_R} y1={CCI_B} y2={CCI_B} />
      </g>
      <line x1={PANEL_L} x2={PANEL_R} y1={ST_B} y2={ST_B} stroke="#787b86" strokeWidth={1} />
      <line x1={L} x2={L} y1={TOP} y2={AX_B} stroke="#787b86" strokeWidth={1} />
      <line x1={R} x2={R} y1={TOP} y2={AX_B} stroke="#787b86" strokeWidth={1} />

      <rect x={2327.5} y={31} width={52.5} height={26} rx={4} fill="#fff" stroke="#eceef2" strokeWidth={1.5} />
      <text x={2336} y={49} fontSize={12.5} fill="#131722">JPY</text>

      {priceTicks.map(t => (
        <text key={t} x={2330} y={y(+t) + 4.7} fontSize={13} fill="#131722">{t}</text>
      ))}
      {cciTicks.map(t => (
        <text key={t} x={2330} y={yCci(t) + 4.7} fontSize={13} fill="#131722">{t < 0 ? `\u2212${(-t).toFixed(3)}` : t.toFixed(3)}</text>
      ))}
      {stochRightTicks.map(t => (
        <text key={t} x={2330} y={yStochR(t) + 4.7} fontSize={13} fill="#131722">{t.toFixed(2)}</text>
      ))}
      {stochLeftTicks.map(t => (
        <text key={t} x={58} y={yStoch(t) + 4.7} fontSize={13} fill="#131722" textAnchor="end">{t.toFixed(2)}</text>
      ))}

      <rect x={R} y={228} width={56.5} height={29.5} rx={2} fill="#008000" />
      <text x={2331} y={241} fontSize={13} fill="#ffffff">150.732</text>
      <text x={2331} y={253.5} fontSize={12.5} fill="#cfe8cf">54:18</text>

      {timeTicks.map(([b, t, bold], k) => (
        <text key={k} x={x(b)} y={1223.5} fontSize={13} fill="#131722" fontWeight={bold ? 700 : 400} textAnchor="middle">{t}</text>
      ))}

      <circle cx={37.7} cy={1219} r={9.5} fill="#f0f3fa" />
      <text x={37.7} y={1223.5} fontSize={12.5} fill="#4a4e5a" textAnchor="middle">Z</text>
      <circle cx={2354} cy={1219} r={9.5} fill="#f0f3fa" />
      <text x={2354} y={1223.5} fontSize={12.5} fill="#4a4e5a" textAnchor="middle">A</text>
    </svg>
  );
}
